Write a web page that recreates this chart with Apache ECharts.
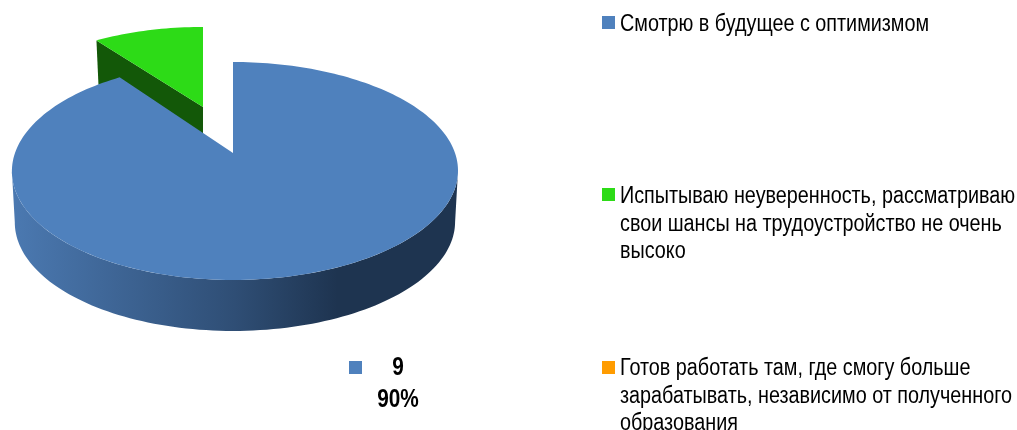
<!DOCTYPE html>
<html>
<head>
<meta charset="utf-8">
<style>html,body{margin:0;padding:0;background:#fff}#c{width:1017px;height:430px}</style>
<script src="https://cdn.jsdelivr.net/npm/echarts@6/dist/echarts.min.js"></script>
</head>
<body>
<div id="c"></div>
<script>
const categories = [
  'Смотрю в будущее с оптимизмом',
  'Испытываю неуверенность, рассматриваю\nсвои шансы на трудоустройство не очень\nвысоко',
  'Готов работать там, где смогу больше\nзарабатывать, независимо от полученного\nобразования'
];
const values = [9, 1, 0];
const colors = ['#4f81bd', '#2ddb17', '#ff9c00'];
const sideColors = ['#1e3450', '#135808', '#995e00'];

const FONT = '"Liberation Sans",Arial,sans-serif';
const total = values.reduce((a, b) => a + b, 0);

// Perspective projection of the unit disc onto the page
const view = { x: 233, y: 153, a: 220, b: 106, k: 0.165, skew: 2 };
function project(deg, r, part) {
  const t = deg * Math.PI / 180;
  const u = Math.sin(t) * r, v = Math.cos(t) * r;
  const w = 1 + view.k * v;
  return [
    view.x + part.dx + part.sx * view.a * u / w + view.skew * u * u,
    view.y + part.dy - part.sy * view.b * v / w
  ];
}
const arc = (from, to, part) => {
  const pts = [];
  const n = Math.max(2, Math.ceil(Math.abs(to - from) / 1.5));
  for (let i = 0; i <= n; i++) pts.push(project(from + (to - from) * i / n, 1, part));
  return pts;
};
const poly = (points, fill) => ({
  type: 'polygon', shape: { points }, style: { fill, stroke: null }
});
const parts = [
  { dx: 0, dy: 0, sx: 1, sy: 1, depth: 51, depthScale: 0.987 },
  { dx: -30, dy: -46, sx: 0.94, sy: 0.88, depth: 44, depthScale: 1 },
  { dx: 0, dy: 0, sx: 1, sy: 1, depth: 0, depthScale: 1 }
];
const rimLimit = Math.acos(-view.k) * 180 / Math.PI; // angle of widest point
const legendText = [
  { x: 620, y: 11 },
  { x: 620, y: 183 },
  { x: 620, y: 355 }
];
const TEXT_SQUEEZE = 0.86;

function sliceRender(index) {
  return function () {
    const before = values.slice(0, index).reduce((a, b) => a + b, 0);
    const start = before / total * 360;
    const end = (before + values[index]) / total * 360;
    const part = parts[index];
    const children = [{
      type: 'text',
      x: legendText[index].x, y: legendText[index].y, scaleX: TEXT_SQUEEZE,
      style: {
        text: categories[index], x: 0, y: 0, align: 'left', verticalAlign: 'top',
        font: '23px ' + FONT, lineHeight: 27.5, fill: '#000'
      }
    }];
    if (values[index] === 0) return { type: 'group', children };
    const apex = project(0, 0, part);
    const rim = arc(start, end, part);
    const lower = Object.assign({}, part, { dy: part.dy + part.depth, sx: part.sx * part.depthScale });

    if (index === 0) {
      // outer wall
      const a1 = Math.max(start, rimLimit), a2 = Math.min(end, 360 - rimLimit);
      const wall = arc(a1, a2, part).concat(arc(a2, a1, lower));
      children.push(poly(wall, {
        type: 'linear', x: 0, y: 0, x2: 1, y2: 0,
        colorStops: [
          { offset: 0, color: '#4b79b1' },
          { offset: 0.5, color: '#2f4e75' },
          { offset: 0.73, color: '#1e3450' },
          { offset: 1, color: '#1e3450' }
        ]
      }));
      // thin cut face along the first radius
      const edge = project(0, 0.57, part);
      children.push({
        type: 'line',
        shape: { x1: apex[0] + 0.5, y1: apex[1], x2: edge[0] + 0.5, y2: edge[1] },
        style: { stroke: '#3a5f8c', lineWidth: 1 }
      });
    } else {
      // cut face along the last radius, which shows for the pulled-out slice
      const p = rim[0];
      children.push(poly([p, apex, [apex[0], apex[1] + part.depth], [p[0] + 2, p[1] + part.depth]], sideColors[index]));
    }
    children.push(poly([apex].concat(rim), colors[index]));

    if (index === 0) {
      children.push({
        type: 'rect', shape: { x: 349, y: 361, width: 13, height: 13 },
        style: { fill: colors[0] }
      });
      children.push({
        type: 'text',
        x: 398, y: 352, scaleX: 0.8,
        style: {
          text: values[0] + '\n' + Math.round(values[0] / total * 100) + '%',
          x: 0, y: 0, align: 'center', verticalAlign: 'top',
          font: 'bold 26px ' + FONT, lineHeight: 32, fill: '#000'
        }
      });
    }
    return { type: 'group', children };
  };
}

const legendTops = [16, 188, 361];
const chart = echarts.init(document.getElementById('c'), null, { renderer: 'canvas' });
chart.setOption({
  animation: false,
  legend: categories.map((name, i) => ({
    data: [name],
    left: 602,
    top: legendTops[i],
    orient: 'vertical',
    padding: 0,
    icon: 'rect',
    itemWidth: 13,
    itemHeight: 13,
    itemGap: 0,
    selectedMode: false,
    formatter: () => '',
    textStyle: { fontSize: 1 }
  })),
  series: categories.map((name, i) => ({
    type: 'custom',
    name,
    coordinateSystem: 'none',
    itemStyle: { color: colors[i] },
    z: i === 0 ? 3 : 2,
    silent: true,
    data: [values[i]],
    renderItem: sliceRender(i)
  }))
});
</script>
</body>
</html>
